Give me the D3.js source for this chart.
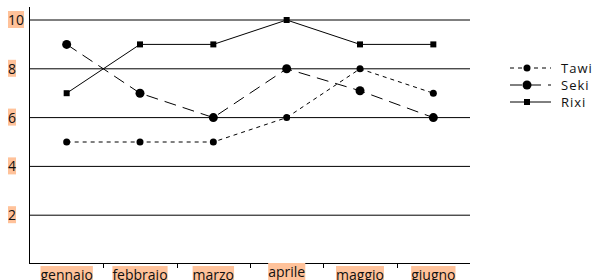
<!DOCTYPE html>
<html>
<head>
<meta charset="utf-8">
<script src="https://cdn.jsdelivr.net/npm/d3@7"></script>
<style>
  body { margin: 0; background: #fff; }
  text { font-family: "Open Sans", sans-serif; }
</style>
</head>
<body>
<div id="chart"></div>
<script>
// data
const months = ["gennaio", "febbraio", "marzo", "aprile", "maggio", "giugno"];
const tawi = [5, 5, 5, 6, 8, 7];
const seki = [9, 7, 6, 8, 7.1, 6];
const rixi = [7, 9, 9, 10, 9, 9];
const yTicks = [2, 4, 6, 8, 10];

const series = [
  { name: "Tawi", values: tawi, dash: "4,4", marker: "circle", r: 3.5 },
  { name: "Seki", values: seki, dash: "12,7", marker: "circle", r: 4.5 },
  { name: "Rixi", values: rixi, dash: null, marker: "square", r: 3 }
];

const labelBg = "#ffc29a";

const svg = d3.select("#chart")
  .append("svg")
  .attr("width", 592)
  .attr("height", 280);

const x = d3.scaleBand()
  .domain(months)
  .range([30, 470]);

const y = d3.scaleLinear()
  .domain([0, 10])
  .range([264, 20]);

// gridlines
svg.selectAll(".grid")
  .data(yTicks)
  .enter()
  .append("line")
  .attr("x1", 30)
  .attr("x2", 470)
  .attr("y1", d => y(d))
  .attr("y2", d => y(d))
  .attr("stroke", "#000")
  .attr("stroke-width", 1);

// axes lines
svg.append("line")
  .attr("x1", 29.5).attr("x2", 29.5)
  .attr("y1", 7).attr("y2", 264)
  .attr("stroke", "#000");

svg.append("line")
  .attr("x1", 29.5).attr("x2", 470)
  .attr("y1", 263.5).attr("y2", 263.5)
  .attr("stroke", "#000");

// x ticks between bands
svg.selectAll(".xtick")
  .data(months.slice(1))
  .enter()
  .append("line")
  .attr("x1", d => Math.round(x(d)) + 0.5)
  .attr("x2", d => Math.round(x(d)) + 0.5)
  .attr("y1", 264)
  .attr("y2", 268)
  .attr("stroke", "#000");

// y tick labels with highlight
const yl = svg.selectAll(".ylab")
  .data(yTicks)
  .enter()
  .append("g");

yl.append("text")
  .attr("x", 8)
  .attr("y", d => y(d) + 5)
  .attr("font-size", 14)
  .attr("fill", "#111")
  .text(d => d);

yl.each(function() {
  const g = d3.select(this);
  const bb = g.select("text").node().getBBox();
  g.insert("rect", "text")
    .attr("x", bb.x)
    .attr("y", bb.y + 1)
    .attr("width", bb.width)
    .attr("height", bb.height - 2)
    .attr("fill", labelBg);
});

// x labels with highlight
const xl = svg.selectAll(".xlab")
  .data(months)
  .enter()
  .append("g");

xl.append("text")
  .attr("x", d => x(d) + x.bandwidth() / 2)
  .attr("y", d => d === "aprile" ? 277 : 280)
  .attr("text-anchor", "middle")
  .attr("font-size", 14)
  .attr("fill", "#111")
  .text(d => d);

xl.each(function() {
  const g = d3.select(this);
  const bb = g.select("text").node().getBBox();
  g.insert("rect", "text")
    .attr("x", bb.x)
    .attr("y", bb.y + 1)
    .attr("width", bb.width)
    .attr("height", bb.height)
    .attr("fill", labelBg);
});

const line = d3.line()
  .x((d, i) => x(months[i]) + x.bandwidth() / 2)
  .y(d => y(d));

function drawMarker(sel, s) {
  if (s.marker === "circle") {
    sel.append("circle").attr("r", s.r).attr("fill", "#000");
  } else {
    sel.append("rect")
      .attr("x", -s.r).attr("y", -s.r)
      .attr("width", s.r * 2).attr("height", s.r * 2)
      .attr("fill", "#000");
  }
}

series.forEach(s => {
  svg.append("path")
    .datum(s.values)
    .attr("d", line)
    .attr("fill", "none")
    .attr("stroke", "#000")
    .attr("stroke-width", 1)
    .attr("stroke-dasharray", s.dash);

  svg.selectAll(null)
    .data(s.values)
    .enter()
    .append("g")
    .attr("transform", (d, i) => `translate(${x(months[i]) + x.bandwidth() / 2},${y(d)})`)
    .each(function() { drawMarker(d3.select(this), s); });
});

// legend
const legend = svg.append("g");
series.forEach((s, i) => {
  const ly = 68 + i * 17;
  legend.append("line")
    .attr("x1", 510).attr("x2", 551)
    .attr("y1", ly).attr("y2", ly)
    .attr("stroke", "#000")
    .attr("stroke-dasharray", s.dash);
  const m = legend.append("g").attr("transform", `translate(527,${ly})`);
  drawMarker(m, s);
  legend.append("text")
    .attr("x", 561)
    .attr("y", ly + 4.5)
    .attr("font-size", 13)
    .attr("letter-spacing", 1)
    .attr("fill", "#111")
    .text(s.name);
});
</script>
</body>
</html>
